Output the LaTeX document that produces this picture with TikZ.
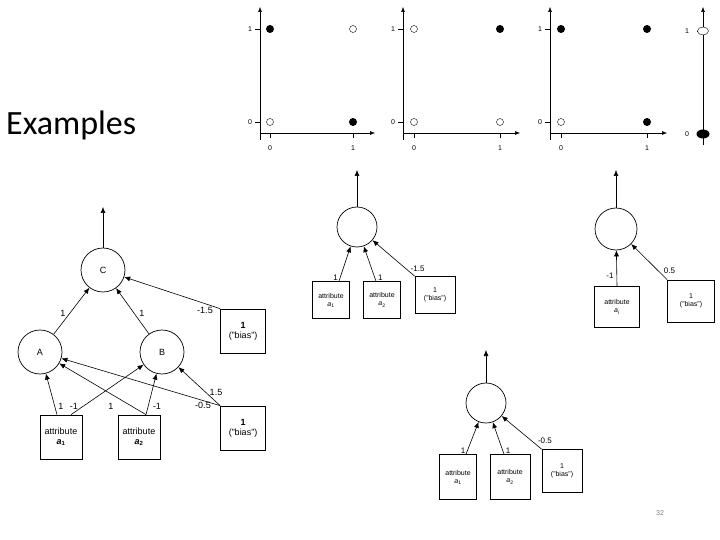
\documentclass[tikz,border=0pt]{standalone}
\usepackage{fontspec}
\setmainfont{Liberation Sans}
\newfontfamily\calfont{Carlito}
\usetikzlibrary{arrows.meta,shapes.geometric,positioning}
\begin{document}
\begin{tikzpicture}[x=1pt,y=-1pt,
  neuron/.style={circle,draw,line width=0.7pt,minimum size=#1,inner sep=0pt},
  neuron/.default=40pt,
  box/.style={draw,line width=0.7pt,minimum width=#1,minimum height=44pt,align=center,font=\fontsize{9}{10}\selectfont,inner sep=1pt},
  box/.default=42pt,
  sbox/.style={draw,line width=0.6pt,minimum width=37pt,minimum height=37pt,align=center,font=\fontsize{7}{8}\selectfont,inner sep=1pt},
  edge/.style={-{Latex[length=6pt,width=5pt]},line width=0.6pt},
  wl/.style={font=\fontsize{9}{10}\selectfont,inner sep=0pt},
  swl/.style={font=\fontsize{8}{9}\selectfont,inner sep=0pt},
  ax/.style={line width=0.5pt,-{Latex[length=5pt,width=4pt]}},
  tk/.style={font=\fontsize{7}{8}\selectfont,inner sep=0pt},
  on/.style={circle,fill=black,minimum size=8pt,inner sep=0pt},
  off/.style={circle,draw,line width=0.4pt,fill=white,minimum size=7pt,inner sep=0pt}]
\useasboundingbox[fill=white] (0,0) rectangle (720,540);
\node[anchor=west,font=\calfont\fontsize{34}{38}\selectfont,inner sep=0pt] (ex) at (6,125) {Examples};
% plots
\foreach \ox/\xa/\xb/\xe/\p/\q/\r/\s [count=\i] in {260/270/353/375/on/off/off/on,403/414/500/520/off/on/off/off,550/561/647/667/on/on/off/on}{
  \coordinate (o\i) at (\ox,133);
  \coordinate (yt\i) at (\ox,7);
  \coordinate (xt\i) at (\xe,133);
  \draw[ax] (\ox,140) -- (yt\i);
  \draw[ax] (\ox,133) -- (xt\i);
  \draw[line width=0.4pt] (\ox-5,29) -- (\ox,29) (\ox-5,122) -- (\ox,122) (\xa,133) -- (\xa,138) (\xb,133) -- (\xb,138);
  \node[tk] (l1\i) at (\ox-10,29) {1};
  \node[tk] (l0\i) at (\ox-10,122) {0};
  \node[tk] (b0\i) at (\xa,148) {0};
  \node[tk] (b1\i) at (\xb,148) {1};
  \node[\p] (p1\i) at (\xa,29) {};
  \node[\q] (p2\i) at (\xb,29) {};
  \node[\r] (p3\i) at (\xa,122) {};
  \node[\s] (p4\i) at (\xb,122) {};
}
\coordinate (y4b) at (703,145);
\coordinate (y4t) at (703,7);
\draw[ax] (y4b) -- (y4t);
\draw[line width=0.4pt] (697,31) -- (703,31) (697,134) -- (703,134);
\node[tk] (m1) at (687,31) {1};
\node[tk] (m0) at (687,134) {0};
\node[off,ellipse,minimum width=11pt,minimum height=8pt] (q1) at (703,31) {};
\node[on,ellipse,minimum width=13pt,minimum height=9pt] (q0) at (703,134) {};
% left network
\node[neuron=44pt] (C) at (103,270) {\small C};
\node[neuron=44pt] (A) at (40,352) {\small A};
\node[neuron=44pt] (B) at (162,352) {\small B};
\node[box=45pt] (b1) at (243,331) {\textbf{1}\\("bias")};
\node[box=45pt] (b2) at (243,428) {\textbf{1}\\("bias")};
\node[box] (a1) at (61,437) {attribute\\\textbf{\textit{a}\textsubscript{1}}};
\node[box] (a2) at (139,437) {attribute\\\textbf{\textit{a}\textsubscript{2}}};
\coordinate (Cout) at (103,207);
\draw[edge] (C) -- (Cout);
\draw[edge] (A) -- (C);
\draw[edge] (B) -- (C);
\draw[edge] (b1.north west) -- (C);
\draw[edge] ([xshift=-4pt]a1.north) -- (A);
\draw[edge] ([xshift=10pt]a1.north) -- (B);
\draw[edge] ([xshift=7pt]a2.north) -- (A);
\draw[edge] ([xshift=7pt]a2.north) -- (B);
\draw[edge] (b2.north west) -- (B);
\draw[edge] (b2.north west) -- (A);
\node[wl] (w1) at (63,313) {1};
\node[wl] (w2) at (142,313) {1};
\node[wl] (w3) at (205,310) {-1.5};
\node[wl] (w4) at (61,406) {1};
\node[wl] (w5) at (74,406) {-1};
\node[wl] (w6) at (111,406) {1};
\node[wl] (w7) at (157,406) {-1};
\node[wl] (w8) at (216,392) {1.5};
\node[wl] (w9) at (203,405) {-0.5};
% middle network 1
\node[neuron] (N1) at (357,227) {};
\coordinate (N1o) at (357,170);
\node[sbox] (n1a) at (331,300) {attribute\\\textit{a}\textsubscript{1}};
\node[sbox] (n1b) at (382,300) {attribute\\\textit{a}\textsubscript{2}};
\node[sbox,minimum width=40pt] (n1c) at (435,295) {1\\("bias")};
\draw[edge] (N1) -- (N1o);
\draw[edge] ([xshift=8pt]n1a.north) -- node[swl,pos=0.1,left=2pt] {1} (N1);
\draw[edge] ([xshift=-6pt]n1b.north) -- node[swl,pos=0.1,right=3pt] {1} (N1);
\draw[edge] (n1c.north west) -- node[swl,pos=0.1,above right=1pt and 0pt] {-1.5} (N1);
% right network
\node[neuron=42pt] (N2) at (616,229) {};
\coordinate (N2o) at (616,170);
\node[sbox,minimum width=45pt,minimum height=41pt] (n2a) at (617,307) {attribute\\\textit{a}\textsubscript{\textit{i}}};
\node[sbox,minimum width=47pt,minimum height=42pt] (n2c) at (691,301) {1\\("bias")};
\draw[edge] (N2) -- (N2o);
\draw[edge] (n2a.north) -- node[swl,pos=0.3,left=3pt] {-1} (N2);
\draw[edge] (n2c.north west) -- node[swl,pos=0.1,above right=2pt and 0pt] {0.5} (N2);
% bottom network
\node[neuron] (N3) at (486,403) {};
\coordinate (N3o) at (486,350);
\node[sbox,minimum height=45pt] (n3a) at (458,477) {attribute\\\textit{a}\textsubscript{1}};
\node[sbox,minimum height=45pt,minimum width=40pt] (n3b) at (510,477) {attribute\\\textit{a}\textsubscript{2}};
\node[sbox,minimum width=40pt,minimum height=43pt] (n3c) at (562,471) {1\\("bias")};
\draw[edge] (N3) -- (N3o);
\draw[edge] ([xshift=8pt]n3a.north) -- node[swl,pos=0.12,left=2pt] {1} (N3);
\draw[edge] ([xshift=-6pt]n3b.north) -- node[swl,pos=0.12,right=3pt] {1} (N3);
\draw[edge] (n3c.north west) -- node[swl,pos=0.1,above right=2pt and 0pt] {-0.5} (N3);
\node[font=\fontsize{7}{8}\selectfont,text=gray] (pg) at (660,513) {32};
\end{tikzpicture}
\end{document}
